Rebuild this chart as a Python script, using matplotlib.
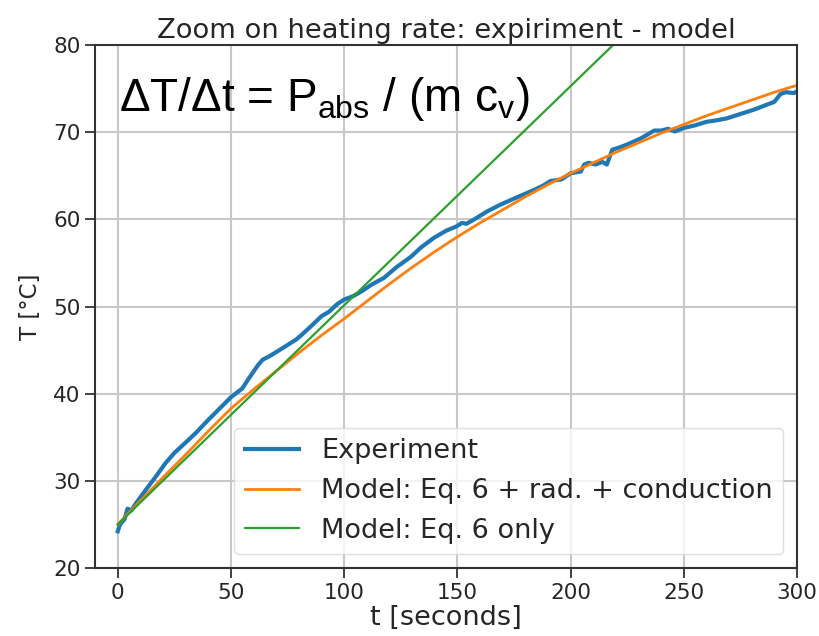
import numpy as np
import matplotlib
matplotlib.use("Agg")
import matplotlib.pyplot as plt

# ======================
# data
# ======================
t_exp = [0, 1, 3, 4.3, 6, 8, 12.5, 16, 21, 25, 30, 34.5, 40, 45, 50, 55, 58, 62, 64, 67,
         72, 78.7, 81, 86, 90, 93.3, 97, 100, 104, 107.4, 112, 117.6, 123, 129.4, 134,
         139.7, 145, 149.6, 152, 154, 157.4, 163, 169, 176, 184, 188, 191, 196, 200,
         204.5, 206, 208, 211, 214, 216, 218.4, 222, 225, 231, 237, 240, 243, 246, 250,
         255, 260, 265, 269, 275, 281, 286, 290, 292.7, 295, 298.6, 300]
T_exp = [24.2, 25.0, 25.6, 26.8, 26.6, 27.4, 29.0, 30.2, 32.0, 33.2, 34.4, 35.5, 37.0,
         38.3, 39.6, 40.6, 41.8, 43.3, 43.9, 44.3, 45.1, 46.2, 46.7, 47.9, 48.9, 49.4,
         50.3, 50.8, 51.2, 51.7, 52.5, 53.3, 54.5, 55.7, 56.8, 57.9, 58.7, 59.2, 59.6,
         59.5, 60.0, 60.9, 61.7, 62.5, 63.4, 63.9, 64.4, 64.6, 65.3, 65.5, 66.3, 66.5,
         66.3, 66.6, 66.3, 68.0, 68.3, 68.6, 69.3, 70.2, 70.2, 70.4, 70.1, 70.5, 70.8,
         71.2, 71.4, 71.6, 72.1, 72.6, 73.1, 73.5, 74.4, 74.6, 74.5, 74.7]

t_model = [0, 10, 20, 30, 40, 50, 60, 70, 80, 90, 100, 110, 120, 130, 140, 150, 160, 170,
           180, 190, 200, 210, 220, 230, 240, 250, 260, 270, 280, 290, 300]
T_model = [25.0, 27.7, 30.4, 33.0, 35.7, 38.3, 40.5, 42.6, 44.7, 46.7, 48.6, 50.6, 52.6,
           54.5, 56.3, 58.0, 59.6, 61.1, 62.6, 64.0, 65.3, 66.5, 67.7, 68.8, 69.9, 70.9,
           71.9, 72.8, 73.7, 74.6, 75.4]

t_lin = [0, 300]
T_lin = [25.0, 100.45]

TXT = "#262626"

plt.rcParams["mathtext.fontset"] = "custom"
plt.rcParams["mathtext.rm"] = "Liberation Sans"
plt.rcParams["mathtext.it"] = "Liberation Sans"

fig = plt.figure(figsize=(8.2, 6.36), dpi=100)
ax = fig.add_axes([0.116, 0.107, 0.856, 0.822])

ax.plot(t_exp, T_exp, color="#1f77b4", lw=3.0, label="Experiment")
ax.plot(t_model, T_model, color="#ff7f0e", lw=2.0, label="Model: Eq. 6 + rad. + conduction")
ax.plot(t_lin, T_lin, color="#2ca02c", lw=1.6, label="Model: Eq. 6 only")

ax.set_xlim(-10, 300)
ax.set_ylim(20, 80)
ax.set_xticks([0, 50, 100, 150, 200, 250, 300])
ax.set_yticks([20, 30, 40, 50, 60, 70, 80])
ax.grid(True, color="#c8c8c8", lw=1.5)
ax.set_axisbelow(True)

for s in ax.spines.values():
    s.set_color("#333333")
    s.set_linewidth(1.5)
ax.tick_params(labelsize=15.5, labelcolor=TXT, color="#333333", length=7, width=1.3)

ax.set_title("Zoom on heating rate: expiriment - model", fontsize=19.7, color=TXT, pad=5)
ax.set_xlabel("t [seconds]", fontsize=19.5, color=TXT, labelpad=2)
ax.set_ylabel("T [°C]", fontsize=16.5, color=TXT, labelpad=8)

leg = ax.legend(loc="lower right", fontsize=19.5, framealpha=0.8,
                edgecolor="#d8d8d8", labelcolor=TXT)

ax.text(0.5, 72.4, "ΔT/Δt = P$_{\\mathregular{abs}}$ / (m c$_{\\mathregular{v}}$)",
        fontsize=33, family="Liberation Sans", color="black", va="baseline")

fig.savefig("out.png", dpi=100, facecolor="white")
